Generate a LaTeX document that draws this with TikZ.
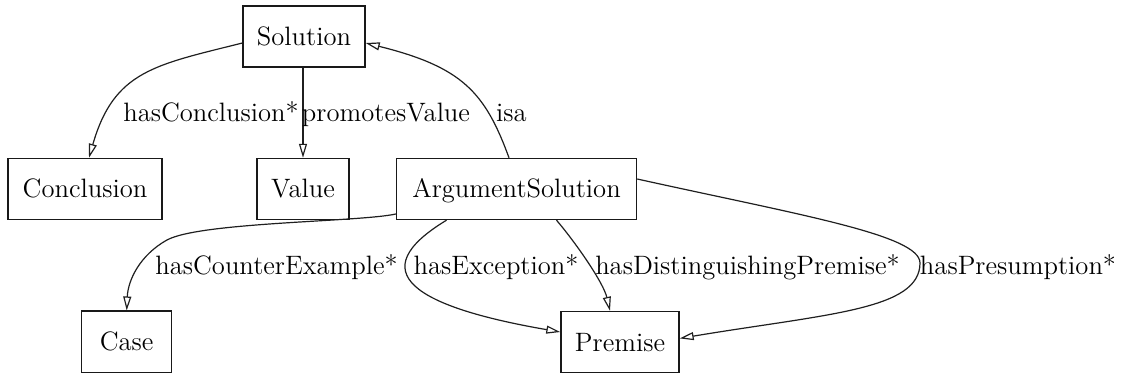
\documentclass[tikz,border=0pt]{standalone}
\usetikzlibrary{arrows.meta}
\begin{document}
\begin{tikzpicture}[x=0.5pt,y=-0.5pt,
  box/.style={draw=black!90,line width=0.7pt,minimum height=30.5pt,inner sep=0pt,
    font=\fontsize{13.3}{15}\selectfont,text height=9pt,text depth=0pt},
  lbl/.style={inner sep=0pt,anchor=base,font=\fontsize{13.3}{15}\selectfont},
  edge/.style={draw=black!88,line width=0.6pt,-{Triangle[open,length=7pt,width=4pt]}}]
\useasboundingbox (0,0) rectangle (1121,374);
\node[box,minimum width=61pt] (sol) at (304,36.5) {Solution};
\node[box,minimum width=77pt] (con) at (85,189) {Conclusion};
\node[box,minimum width=46pt] (val) at (303,189) {Value};
\node[box,minimum width=120pt] (arg) at (516.5,189) {ArgumentSolution};
\node[box,minimum width=45pt] (cas) at (126.7,341.7) {Case};
\node[box,minimum width=59pt] (pre) at (620,342) {Premise};
% edges
\draw[edge] ([yshift=-3.25pt]sol.west) .. controls (155,65) and (114,70.6) .. ([xshift=2pt]con.north);
\draw[edge] (sol.south -| val.north) -- (val.north);
\draw[edge] ([xshift=-3.75pt]arg.north) .. controls (485,92) and (462,67) .. ([yshift=-3.25pt]sol.east);
\draw[edge] ([yshift=-12.5pt]arg.west) .. controls (360,222) and (200,222) .. (167,240)
   .. controls (140,255) and (128,280) .. (cas.north);
\draw[edge] ([xshift=-35pt]arg.south) .. controls (361,272) and (413.6,306.65) .. ([yshift=5pt]pre.west);
\draw[edge] ([xshift=20pt]arg.south) .. controls (575.8,242.8) and (603.4,282.6) .. ([xshift=-5pt]pre.north);
\draw[edge] ([yshift=5pt]arg.east) .. controls (800,215) and (920,235) .. (920,263)
   .. controls (920,310) and (827.4,313.8) .. ([yshift=1.8pt]pre.east);
% labels
\node[lbl] (l1) at (211,122) {hasConclusion*};
\node[lbl] (l2) at (386,122) {promotesValue};
\node[lbl] (l3) at (511.5,122) {isa};
\node[lbl] (l4) at (276.5,274.5) {hasCounterExample*};
\node[lbl] (l5) at (496,274.5) {hasException*};
\node[lbl] (l6) at (747.5,274.5) {hasDistinguishingPremise*};
\node[lbl] (l7) at (1018,274.5) {hasPresumption*};
\end{tikzpicture}
\end{document}
